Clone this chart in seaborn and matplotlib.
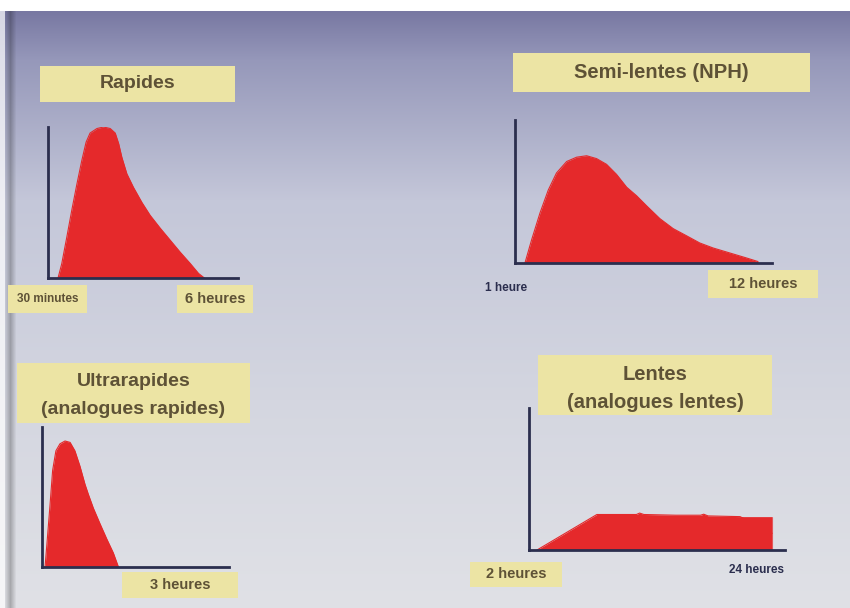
import numpy as np
import pandas as pd
import matplotlib
matplotlib.use("Agg")
import matplotlib.pyplot as plt
from matplotlib.patches import Rectangle
import seaborn as sns

# insulin action profiles (time in hours, relative activity)
rapid_t = [0.5, 0.64, 0.83, 1.02, 1.21, 1.40, 1.56, 1.71, 1.97, 2.22, 2.47, 2.66, 2.79,
           2.91, 3.10, 3.35, 3.67, 3.98, 4.36, 4.74, 5.12, 5.5, 5.81, 6.03]
rapid_v = [0, 0.095, 0.27, 0.45, 0.62, 0.78, 0.90, 0.96, 0.99, 1.0, 0.99, 0.96, 0.89,
           0.80, 0.69, 0.60, 0.50, 0.415, 0.33, 0.25, 0.17, 0.095, 0.03, 0]

nph_t = [1.0, 1.31, 1.71, 2.10, 2.49, 2.97, 3.44, 3.91, 4.38, 4.85, 5.32, 5.80, 6.27,
         6.74, 7.37, 8.0, 8.63, 9.25, 9.88, 10.67, 11.46, 12.0]
nph_v = [0, 0.16, 0.35, 0.51, 0.63, 0.71, 0.74, 0.75, 0.73, 0.69, 0.62, 0.53, 0.47,
         0.40, 0.31, 0.24, 0.19, 0.14, 0.105, 0.07, 0.035, 0.01]

ultra_t = [0.12, 0.21, 0.32, 0.42, 0.55, 0.71, 0.91, 1.11, 1.30, 1.50, 1.70, 1.83,
           2.03, 2.29, 2.56, 2.82, 3.02]
ultra_v = [0, 0.20, 0.45, 0.69, 0.83, 0.88, 0.90, 0.89, 0.83, 0.72, 0.59, 0.52,
           0.42, 0.31, 0.20, 0.10, 0]

slow_t = [2, 7.6, 10, 11.3, 11.6, 12, 15, 17.3, 17.6, 18, 21, 24, 24]
slow_v = [0, 0.25, 0.25, 0.25, 0.26, 0.25, 0.245, 0.245, 0.252, 0.24, 0.235, 0.235, 0]

titles = ["Rapides", "Semi-lentes (NPH)", "Ultrarapides\n(analogues rapides)", "Lentes\n(analogues lentes)"]
start_labels = ["30 minutes", "1 heure", None, "2 heures"]
end_labels = ["6 heures", "12 heures", "3 heures", "24 heures"]

W, H = 850, 608
RED = "#e5292b"
AXC = "#2b2e4e"
BOX = "#ece4a4"
TXT = "#5e5236"

sns.set_theme(style="white")
plt.rcParams["font.family"] = ["Liberation Sans", "DejaVu Sans"]

fig = plt.figure(figsize=(W / 100, H / 100), dpi=100)

# photographed slide background
bg = fig.add_axes([0, 0, 1, 1])
yy = np.arange(H)
stops_y = [0, 11, 60, 200, 400, H]
cols = np.array([[255, 255, 255], [120, 120, 162], [150, 152, 186], [196, 199, 217],
                 [212, 214, 224], [224, 225, 230]], float)
img = np.zeros((H, W, 3))
for c in range(3):
    img[:, :, c] = np.interp(yy, stops_y, cols[:, c])[:, None]
img[:11, :, :] = 255
shade = np.clip(1 - np.abs(np.arange(W) - 10) / 6.0, 0, 1) * 0.25
img[11:, :, :] *= (1 - shade)[None, :, None]
img[11:, :5, :] = img[11:, :5, :] * 0.3 + 255 * 0.7
bg.imshow(img.astype(np.uint8), extent=[0, W, H, 0], aspect="auto")
bg.set_xlim(0, W)
bg.set_ylim(H, 0)
bg.axis("off")


def px_axes(x0, x1, ytop, ybase):
    return fig.add_axes([x0 / W, 1 - ybase / H, (x1 - x0) / W, (ybase - ytop) / H])


def profile(ax, t, v, xlim, tick):
    df = pd.DataFrame({"t": t, "v": v})
    ax.fill_between(df["t"], 0, df["v"], color=RED, lw=0, zorder=2)
    sns.lineplot(data=df, x="t", y="v", ax=ax, color=RED, lw=0.8, sort=False, zorder=3)
    ax.set_xlim(*xlim)
    ax.set_ylim(0, 1.0)
    ax.set_facecolor("none")
    for s in ["top", "right"]:
        ax.spines[s].set_visible(False)
    for s in ["left", "bottom"]:
        ax.spines[s].set_color(AXC)
        ax.spines[s].set_linewidth(2)
        ax.spines[s].set_zorder(4)
    ax.set_xticks([tick] if tick is not None else [])
    ax.set_yticks([])
    ax.tick_params(axis="x", direction="in", length=4, width=1, color=AXC, labelbottom=False)
    ax.set_xlabel("")
    ax.set_ylabel("")


profile(px_axes(48, 238, 127, 278), rapid_t, rapid_v, (0.12, 7.3), 6)
profile(px_axes(515, 772, 120, 263), nph_t, nph_v, (0.53, 12.66), 12)
profile(px_axes(42, 229, 427, 567), ultra_t, ultra_v, (0, 7.39), None)
profile(px_axes(529, 785, 408, 550), slow_t, slow_v, (1.25, 25.2), None)


def box_label(x0, x1, y0, y1, text, size, lines_y=None):
    bg.add_patch(Rectangle((x0, y0), x1 - x0, y1 - y0, color=BOX, lw=0, zorder=2))
    cx = (x0 + x1) / 2
    if lines_y is None:
        bg.text(cx, (y0 + y1) / 2, text, ha="center", va="center", fontsize=size,
                fontweight="bold", color=TXT, zorder=3)
    else:
        for line, ly in zip(text.split("\n"), lines_y):
            bg.text(cx, ly, line, ha="center", va="center", fontsize=size,
                    fontweight="bold", color=TXT, zorder=3)


# titles
box_label(40, 235, 66, 102, titles[0], 14)
box_label(513, 810, 53, 92, titles[1], 14.5)
box_label(17, 250, 363, 423, titles[2], 14, lines_y=[382, 410])
box_label(538, 772, 355, 415, titles[3], 14.5, lines_y=[374, 403])

# time labels
box_label(8, 87, 285, 313, start_labels[0], 8.5)
box_label(177, 253, 285, 313, end_labels[0], 10.5)
bg.text(506, 288, start_labels[1], ha="center", va="center", fontsize=8.5,
        fontweight="bold", color=AXC, zorder=3)
box_label(708, 818, 270, 298, end_labels[1], 10.5)
box_label(122, 238, 572, 598, end_labels[2], 10.5)
box_label(470, 562, 562, 587, start_labels[3], 10.5)
bg.text(757, 570, end_labels[3], ha="center", va="center", fontsize=8.5,
        fontweight="bold", color=AXC, zorder=3)

fig.savefig("out.png", dpi=100)
